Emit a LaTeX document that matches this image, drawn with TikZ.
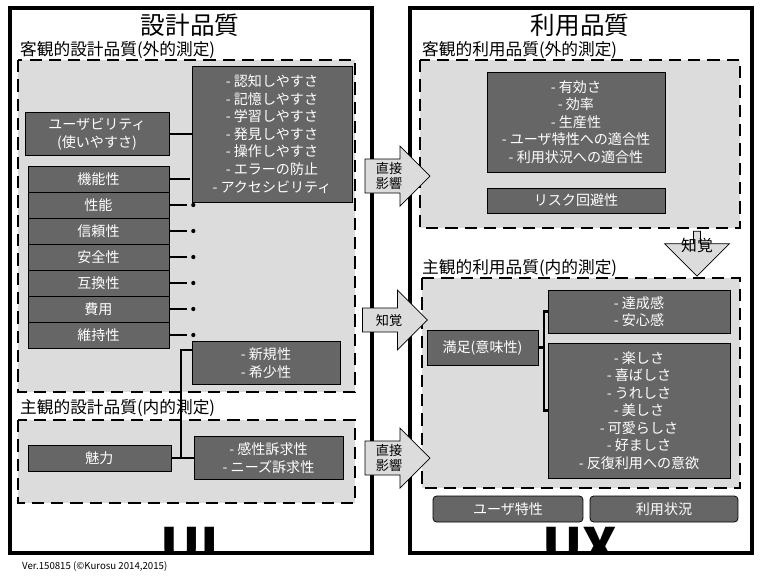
\documentclass[tikz,border=0pt]{standalone}
\usepackage{fontspec}
\setmainfont{Noto Sans CJK JP}
\usetikzlibrary{shapes.arrows}
\usetikzlibrary{positioning}

\definecolor{boxgrey}{HTML}{666666}
\definecolor{areagrey}{HTML}{DCDCDC}
\tikzset{
  darkbox/.style={draw=black, fill=boxgrey, text=white, align=center, font=\fontsize{8}{10}\selectfont},
  area/.style={draw=black, fill=areagrey, line width=1.3pt, dash pattern=on 7pt off 4pt},
  outer/.style={draw=black, line width=2pt},
  link/.style={line width=1.3pt},
  bigarrow/.style={draw=black, fill=areagrey, single arrow, single arrow head extend=7pt, minimum height=1.3cm, minimum width=1.2cm, inner sep=1pt, align=center, font=\fontsize{7.5}{9}\selectfont},
  heading/.style={font=\fontsize{9.5}{11}\selectfont, anchor=west},
  bigletters/.style={font=\fontsize{30}{30}\bfseries\selectfont, anchor=base, inner sep=0pt}
}

\begin{document}
\begin{tikzpicture}[x=0.02cm, y=-0.02cm]
        \useasboundingbox (0,0) rectangle (769,576);

        % left side
        \draw[outer] (10,8) rectangle (372,553);
        \node[font=\fontsize{14}{16}\selectfont] (uiTitle) at (190,25) {設計品質};
        \node[heading] (objDesign) at (14,50) {客観的設計品質(外的測定)};
        \draw[area] (18,60) rectangle (355,392);
        \node[heading] (subDesign) at (14,408) {主観的設計品質(内的測定)};
        \draw[area] (18,420) rectangle (355,503);

        \node[darkbox, minimum width=3.2cm, minimum height=2.72cm, inner sep=1pt] (usaList) at (272,134)
          {- 認知しやすさ\\- 記憶しやすさ\\- 学習しやすさ\\- 発見しやすさ\\- 操作しやすさ\\- エラーの防止\\- アクセシビリティ};
        \node[darkbox, minimum width=2.88cm, minimum height=0.86cm] (usability) at (97,134) {ユーザビリティ\\(使いやすさ)};

        \foreach \name/\txt [count=\i] in {kino/機能性, seino/性能, shinrai/信頼性, anzen/安全性, gokan/互換性, hiyo/費用, iji/維持性} {
          \node[darkbox, minimum width=2.82cm, minimum height=0.52cm, inner sep=0pt] (\name) at (98.5,153+26*\i) {\txt};
        }
        \draw[link] (usability.east) -- (usaList.west |- usability.east);
        \draw[link] (kino.east) -- ++(21,0);
        \foreach \name in {seino, shinrai, anzen, gokan, hiyo, iji} {
          \draw[link] (\name.east) -- ++(18,0);
          \fill (\name.east) ++(24,0) circle (1.2pt);
        }

        \node[darkbox, minimum width=2.96cm, minimum height=0.86cm] (novelty) at (266,363) {- 新規性\\- 希少性};
        \node[darkbox, minimum width=2.86cm, minimum height=0.52cm] (miryoku) at (99.5,458) {魅力};
        \node[darkbox, minimum width=2.98cm, minimum height=0.86cm] (appeal) at (268.5,458) {- 感性訴求性\\- ニーズ訴求性};
        \draw[link] (miryoku.east) -- (appeal.west);
        \draw[link] (181,458) -- (181,350) -- (novelty.west |- 0,350);

        \node[bigletters] (ui) at (190,566) {UI};
        \fill[white] (11,553.8) rectangle (371,575);
        \draw[outer] (10,553) -- (372,553);

        % right side
        \draw[outer] (410,8) rectangle (752,553);
        \node[font=\fontsize{14}{16}\selectfont] (uxTitle) at (580,25) {利用品質};
        \node[heading] (objUse) at (416,50) {客観的利用品質(外的測定)};
        \draw[area] (420,60) rectangle (740,228);
        \node[darkbox, minimum width=3.56cm, minimum height=2cm] (effList) at (576,122)
          {- 有効さ\\- 効率\\- 生産性\\- ユーザ特性への適合性\\- 利用状況への適合性};
        \node[darkbox, minimum width=3.56cm, minimum height=0.5cm] (risk) at (576,200.5) {リスク回避性};
        \node[heading] (subUse) at (416,268) {主観的利用品質(内的測定)};
        \draw[area] (422,278) rectangle (740,488);
        \node[darkbox, minimum width=2.22cm, minimum height=0.7cm] (manzoku) at (482.5,347.5) {満足(意味性)};
        \node[darkbox, minimum width=3.64cm, minimum height=0.86cm] (tassei) at (639,311.5) {- 達成感\\- 安心感};
        \node[darkbox, minimum width=3.64cm, minimum height=2.7cm] (tanoshi) at (639,410.5)
          {- 楽しさ\\- 喜ばしさ\\- うれしさ\\- 美しさ\\- 可愛らしさ\\- 好ましさ\\- 反復利用への意欲};
        \draw[link] (manzoku.east) -- (544,347.5);
        \draw[link] (tassei.west) -- (544,311.5) -- (544,410.5) -- (tanoshi.west);

        \node[bigletters] (ux) at (580,566) {UX};
        \fill[white] (411,553.8) rectangle (751,575);
        \draw[outer] (410,553) -- (752,553);
        \node[darkbox, rounded corners=2pt, minimum width=3cm, minimum height=0.52cm] (userChar) at (508,509) {ユーザ特性};
        \node[darkbox, rounded corners=2pt, minimum width=2.96cm, minimum height=0.52cm] (context) at (664,509) {利用状況};

        % arrows between
        \node[bigarrow] (direct1) at (389,176) {直接\\影響};
        \node[bigarrow] (percept1) at (389,320) {知覚};
        \node[bigarrow] (direct2) at (389,458) {直接\\影響};
        \node[bigarrow, rotate=-90, minimum height=0.9cm, minimum width=1.3cm, single arrow head extend=10pt] (percept2) at (697,252) {};
        \node[font=\fontsize{9}{11}\selectfont] (perceptLabel) at (697,245) {知覚};

        \node[anchor=west, font=\fontsize{5.5}{7}\selectfont] (version) at (16,566) {Ver.150815 (©Kurosu 2014,2015)};
\end{tikzpicture}
\end{document}
